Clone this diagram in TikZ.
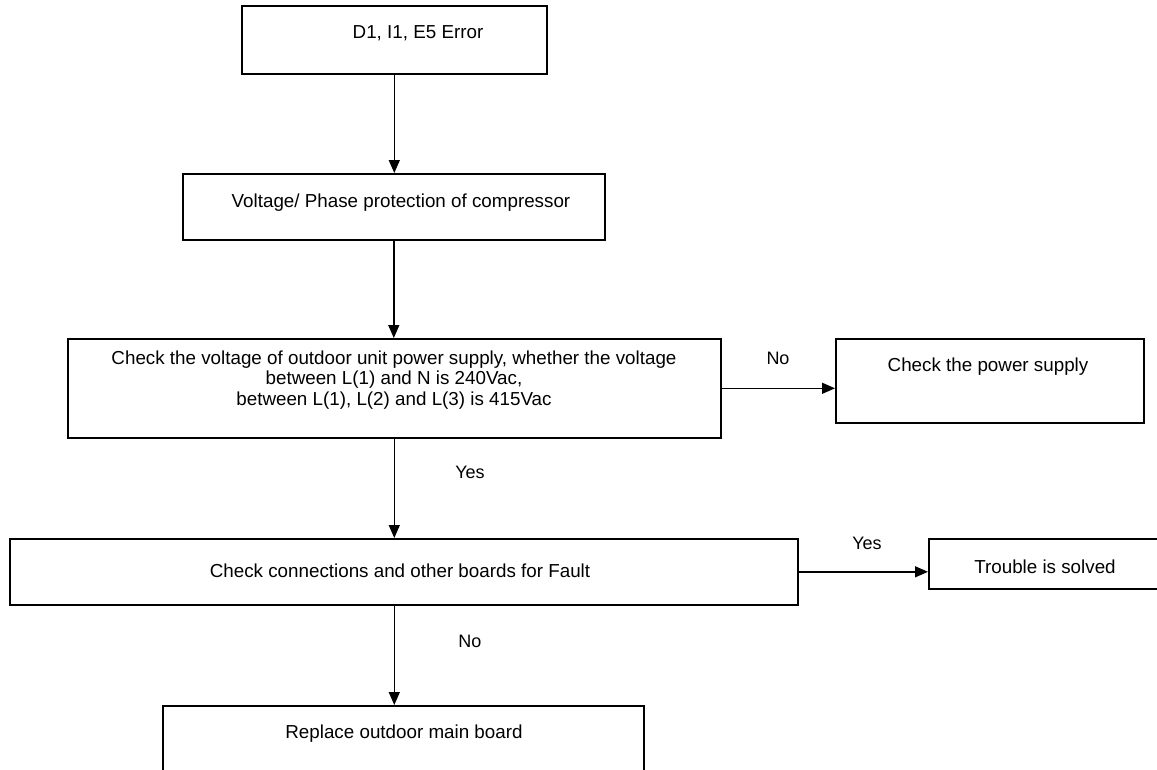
\documentclass[tikz,border=0pt]{standalone}
\usepackage{fontspec}
\setmainfont{Liberation Sans}
\usetikzlibrary{arrows.meta,calc}
\begin{document}
\begin{tikzpicture}[x=1pt,y=-1pt,
  box/.style={draw=black,line width=1.6pt,rectangle,inner sep=0pt,anchor=north west},
  txt/.style={font=\fontsize{18.8}{20.5}\selectfont,align=center,inner sep=0pt},
  lbl/.style={font=\fontsize{18}{20}\selectfont,inner sep=0pt},
  arr/.style={draw=black,line width=1.4pt,-{Triangle[length=13pt,width=11pt]}}]
\useasboundingbox[fill=white] (0,0) rectangle (1157,769);
% boxes
\node[box,minimum width=305pt,minimum height=68pt] (b1) at (241,5) {};
\node[box,minimum width=422pt,minimum height=66pt] (b2) at (182,173) {};
\node[box,minimum width=653pt,minimum height=99pt] (b3) at (67,338) {};
\node[box,minimum width=308pt,minimum height=84pt] (b4) at (835,338) {};
\node[box,minimum width=788pt,minimum height=66pt] (b5) at (9,538) {};
\node[box,minimum width=240pt,minimum height=50pt] (b6) at (928,538) {};
\node[box,minimum width=481pt,minimum height=100pt] (b7) at (162,705) {};
% texts
\node[txt] (t1) at (418,33) {D1, I1, E5 Error};
\node[txt] (t2) at (401,203) {Voltage/ Phase protection of compressor};
\node[txt] (t3) at (394,380) {Check the voltage of outdoor unit power supply, whether the voltage\\between L(1) and N is 240Vac,\\between L(1), L(2) and L(3) is 415Vac};
\node[txt] (t4) at (988,367) {Check the power supply};
\node[txt] (t5) at (400,571) {Check connections and other boards for Fault};
\node[txt] (t6) at (1045,567) {Trouble is solved};
\node[txt] (t7) at (404,734) {Replace outdoor main board};
% labels
\node[lbl] (l1) at (778,358) {No};
\node[lbl] (l2) at (470,472) {Yes};
\node[lbl] (l3) at (867,543) {Yes};
\node[lbl] (l4) at (470,641) {No};
% connectors
\draw[arr] (b1.south) -- (b1.south |- b2.north);
\draw[arr] (b2.south) -- (b2.south |- b3.north);
\draw[arr] (b3.east) -- (b3.east -| b4.west);
\draw[arr] (b3.south) -- (b3.south |- b5.north);
\draw[arr] (b5.east) -- (b5.east -| b6.west);
\draw[arr] (b3.south |- b5.south) -- (b3.south |- b7.north);
\end{tikzpicture}
\end{document}
